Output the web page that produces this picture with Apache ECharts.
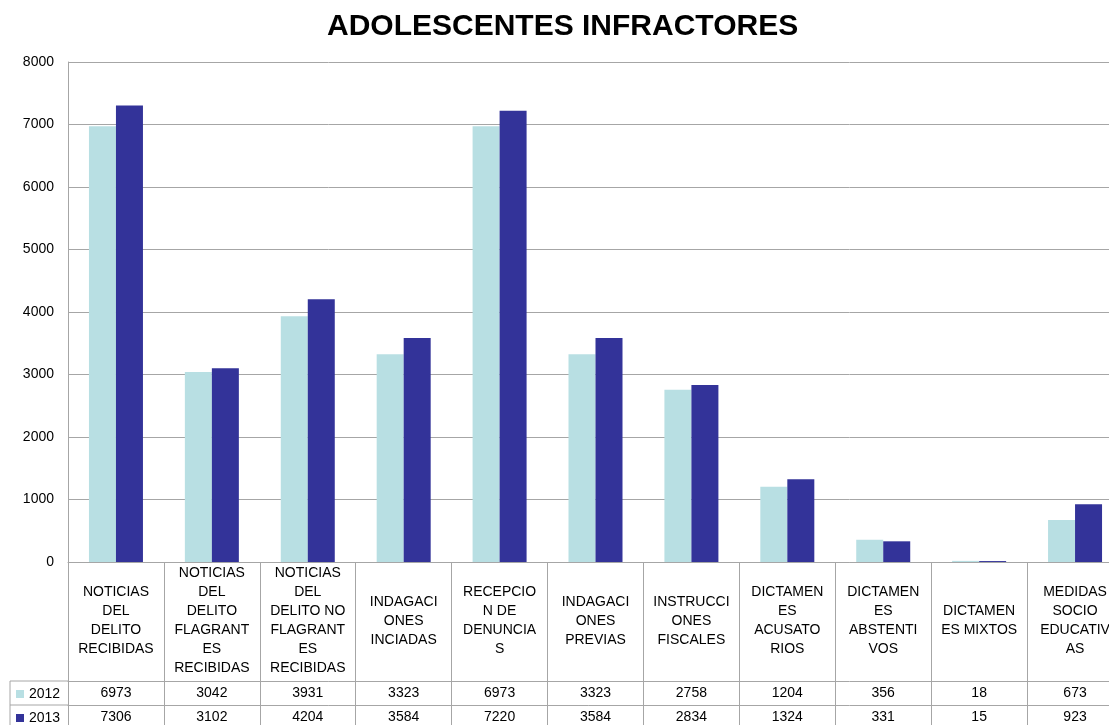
<!DOCTYPE html>
<html>
<head>
<meta charset="utf-8">
<title>Adolescentes infractores</title>
<script src="https://cdn.jsdelivr.net/npm/echarts@6/dist/echarts.min.js"></script>
<style>
    html, body { margin: 0; padding: 0; background: #fff; }
    #main { width: 1109px; height: 725px; }
</style>
</head>
<body>
<div id="main"></div>
<script>
var categories = [
    'NOTICIAS\nDEL\nDELITO\nRECIBIDAS',
    'NOTICIAS\nDEL\nDELITO\nFLAGRANT\nES\nRECIBIDAS',
    'NOTICIAS\nDEL\nDELITO NO\nFLAGRANT\nES\nRECIBIDAS',
    'INDAGACI\nONES\nINCIADAS',
    'RECEPCIO\nN DE\nDENUNCIA\nS',
    'INDAGACI\nONES\nPREVIAS',
    'INSTRUCCI\nONES\nFISCALES',
    'DICTAMEN\nES\nACUSATO\nRIOS',
    'DICTAMEN\nES\nABSTENTI\nVOS',
    'DICTAMEN\nES MIXTOS',
    'MEDIDAS\nSOCIO\nEDUCATIV\nAS'
];
var values2012 = [6973, 3042, 3931, 3323, 6973, 3323, 2758, 1204, 356, 18, 673];
var values2013 = [7306, 3102, 4204, 3584, 7220, 3584, 2834, 1324, 331, 15, 923];
var yTicks = [0, 1000, 2000, 3000, 4000, 5000, 6000, 7000, 8000];

var lineColor = '#a6a6a6';
var labelFont = {color: '#000', fontSize: 14, fontFamily: 'Liberation Sans, Arial, sans-serif'};

var chart = echarts.init(document.getElementById('main'));

// one row of the data table under the plot, drawn as an extra category axis
var tableRow = function (values, offset) {
    return {
        type: 'category',
        position: 'bottom',
        offset: offset,
        data: values.map(function (v) { return String(v); }),
        axisLine: {show: true, lineStyle: {color: lineColor}},
        axisTick: {show: false},
        axisLabel: Object.assign({interval: 0, margin: 12, verticalAlign: 'middle'}, labelFont)
    };
};

var option = {
    animation: false,
    title: {
        text: 'ADOLESCENTES INFRACTORES',
        left: 322,
        top: 7,
        textStyle: {fontSize: 30, fontWeight: 'bold', color: '#000', fontFamily: 'Liberation Sans, Arial, sans-serif'}
    },
    legend: {
        orient: 'vertical',
        left: 16,
        top: 687,
        padding: 0,
        itemGap: 10,
        itemWidth: 8,
        itemHeight: 8,
        icon: 'rect',
        textStyle: labelFont
    },
    grid: {left: 68, top: 62, bottom: 163, right: -14, containLabel: false, outerBoundsMode: 'none'},
    xAxis: [{
        type: 'category',
        data: categories,
        axisLine: {lineStyle: {color: lineColor}},
        axisTick: {show: true, interval: 0, length: 165, lineStyle: {color: lineColor}},
        axisLabel: Object.assign({interval: 0, margin: 59, verticalAlign: 'middle', lineHeight: 19}, labelFont)
    }, tableRow(values2012, 119), tableRow(values2013, 143)],
    yAxis: [{
        type: 'value',
        min: yTicks[0],
        max: yTicks[yTicks.length - 1],
        interval: 1000,
        axisLine: {show: true, lineStyle: {color: lineColor}},
        axisTick: {show: false},
        splitLine: {lineStyle: {color: lineColor}},
        axisLabel: Object.assign({margin: 14, formatter: function (v) { return String(v); }}, labelFont)
    }],
    graphic: [
        {type: 'line', shape: {x1: 10, y1: 681, x2: 68, y2: 681}, style: {stroke: lineColor}},
        {type: 'line', shape: {x1: 10, y1: 705, x2: 68, y2: 705}, style: {stroke: lineColor}},
        {type: 'line', shape: {x1: 10, y1: 681, x2: 10, y2: 725}, style: {stroke: lineColor}}
    ],
    series: [{
        name: '2012',
        type: 'bar',
        data: values2012,
        barWidth: 27,
        barGap: '0%',
        itemStyle: {color: '#b8dfe3'}
    }, {
        name: '2013',
        type: 'bar',
        data: values2013,
        barWidth: 27,
        barGap: '0%',
        itemStyle: {color: '#333399'}
    }]
};
chart.setOption(option);
</script>
</body>
</html>
